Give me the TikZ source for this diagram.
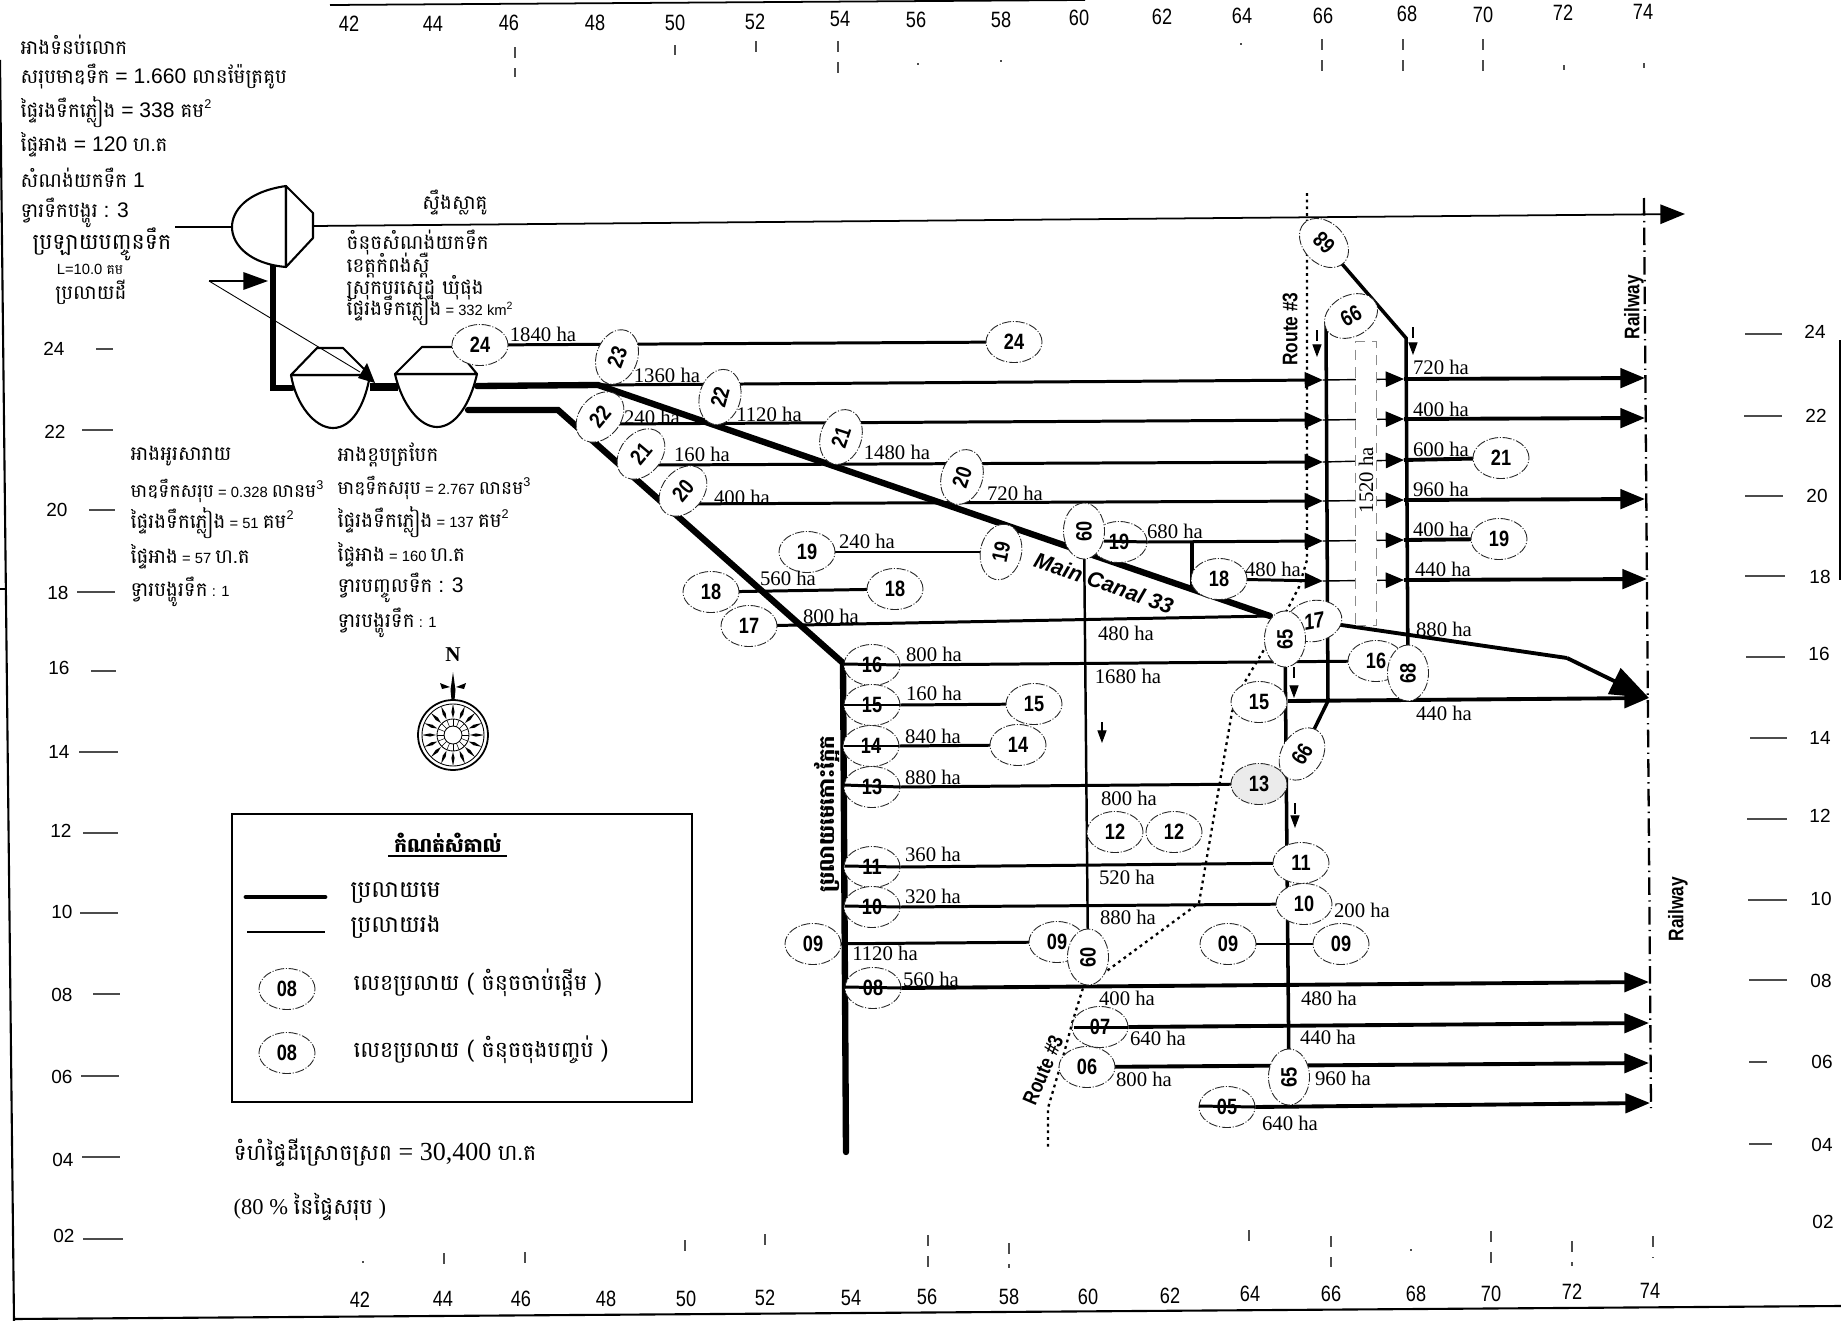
\documentclass[tikz,border=0pt]{standalone}
\usepackage{fontspec}
\usetikzlibrary{shapes.geometric,arrows.meta}
\setmainfont{Liberation Serif}
\newfontfamily\kmf[Script=Khmer]{Battambang}
\newfontfamily\sansf{Liberation Sans}
\newfontfamily\nsf[FakeStretch=0.82]{Liberation Sans}
\newcommand\fsz[1]{\fontsize{#1}{#1}\selectfont}
\newcommand\la[1]{{\sansf\fsz{6}\ #1\ }}
\newcommand\lb[1]{{\sansf\fsz{4.2}\ #1\ }}
\newcommand\sq[1]{\raisebox{.45em}{\sansf\fsz{3.6}#1}}
\pgfdeclarelayer{back}
\pgfsetlayers{back,main}
\tikzset{
  ell/.style={ellipse,draw=black!85,fill=white,inner sep=0pt,minimum width=0.56cm,minimum height=0.41cm,line width=.25pt,
    dash pattern=on 2.6pt off .5pt on .3pt off .5pt,font=\nsf\bfseries\fsz{6.3},text depth=0pt},
  ellh/.style={ell,fill=black!8},
  ha/.style={inner sep=0pt,font=\rmfamily\fsz{5.9}},
  km/.style={inner sep=0pt,anchor=west,font=\kmf\fsz{5.65}},
  kmc/.style={inner sep=0pt,font=\kmf\fsz{5.65}},
  kml/.style={km,font=\kmf\fsz{6.3}},
  ax/.style={inner sep=0pt,font=\sansf\fsz{5.4}},
  axn/.style={inner sep=0pt,font=\nsf\fsz{6.3}},
  rot/.style={inner sep=0pt,font=\nsf\bfseries\fsz{6}},
  canal/.style={line width=1.8pt,line cap=round,line join=miter},
  sec/.style={line width=.85pt},
  secb/.style={line width=1.1pt},
  fine/.style={line width=.35pt},
  tick/.style={line width=.3pt,black!70},
  routeline/.style={line width=.65pt,dash pattern=on .8pt off 1.1pt},
  rail/.style={line width=.65pt,dash pattern=on 5pt off 1.5pt on .4pt off 1.5pt},
  midtip/.style={-{Triangle[length=5.2pt,width=4.4pt]}},
  endtip/.style={-{Triangle[length=7pt,width=5.5pt]}},
  bigtip/.style={-{Triangle[length=11pt,width=8pt]}},
  smalltip/.style={line width=.3pt,dashed,-{Triangle[length=3.6pt,width=2.6pt]}},
  dam/.style={draw,fill=white,line width=.6pt,line join=round},
}
\begin{document}
\begin{tikzpicture}[x=0.01cm,y=-0.01cm]
\useasboundingbox (0,0) rectangle (1841,1321);
\begin{pgfonlayer}{back}
\fill[white] (0,0) rectangle (1841,1321);
\end{pgfonlayer}
% frame
\draw[line width=.6pt] (0,60) -- (14,1321);
\draw[line width=.6pt] (14,1319) -- (1841,1306);
\draw[line width=.5pt] (330,5) -- (1085,0);
\draw[line width=.5pt] (1840,340) -- (1840,580);
\draw[line width=.4pt] (0,589) -- (6,589);
% axis labels
\foreach \n/\x/\y in {42/349/24,44/433/24,46/509/23,48/595/23,50/675/23,52/755/22,54/840/19,56/916/20,58/1001/20,60/1079/18,62/1162/17,64/1242/16,66/1323/16,68/1407/14,70/1483/15,72/1563/13,74/1643/12}
  \node[axn] (top\n) at (\x,\y) {\n};
\foreach \n/\x/\y in {42/360/1300,44/443/1299,46/521/1299,48/606/1299,50/686/1299,52/765/1298,54/851/1298,56/927/1297,58/1009/1297,60/1088/1297,62/1170/1296,64/1250/1294,66/1331/1294,68/1416/1294,70/1491/1294,72/1572/1292,74/1650/1291}
  \node[axn] (bot\n) at (\x,\y) {\n};
\foreach \n/\x/\y in {24/54/349,22/55/432,20/57/510,18/58/593,16/59/668,14/59/752,12/61/831,10/62/912,08/62/995,06/62/1077,04/63/1160,02/64/1236}
  \node[ax] (lft\n) at (\x,\y) {\n};
\foreach \n/\x/\y in {24/1815/332,22/1816/416,20/1817/496,18/1820/577,16/1819/654,14/1820/738,12/1820/816,10/1821/899,08/1821/981,06/1822/1062,04/1822/1145,02/1823/1222}
  \node[ax] (rgt\n) at (\x,\y) {\n};
% ticks
\foreach \a/\b/\y in {96/113/349,82/113/430,89/115/510,77/115/592,91/116/671,79/118/752,83/118/833,80/118/913,93/120/994,81/119/1076,82/120/1157,83/123/1239}
  \draw[tick] (\a,\y) -- (\b,\y);
\foreach \a/\b/\y in {1745/1782/334,1744/1782/416,1745/1783/496,1745/1785/576,1746/1785/657,1750/1787/738,1747/1787/819,1748/1787/900,1749/1787/980,1749/1767/1062,1749/1772/1144}
  \draw[tick] (\a,\y) -- (\b,\y);
\foreach \x/\a/\b in {515/47/77,675/45/55,756/41/56,838/41/78,918/63/65,1001/60/62,1241/43/45,1322/39/71,1403/39/74,1483/39/74,1564/65/70,1644/63/68}
  \draw[tick,dashed] (\x,\a) -- (\x,\b);
\foreach \x/\a/\b in {363/1261/1263,444/1253/1268,525/1252/1270,685/1240/1251,765/1234/1252,928/1235/1267,1009/1243/1268,1249/1230/1245,1331/1236/1267,1411/1249/1251,1491/1231/1266,1572/1241/1266,1653/1236/1258}
  \draw[tick,dashed] (\x,\a) -- (\x,\b);
% top-left text
\node[km] (t1) at (20,45) {អាងទំនប់លោក};
\node[km] (t2) at (20,77) {សរុបមាឌទឹក\la{= 1.660}លានម៉ែត្រគូប};
\node[km] (t3) at (20,112) {ផ្ទៃរងទឹកភ្លៀង\la{= 338}គម\sq{2}};
\node[km] (t4) at (20,145) {ផ្ទៃអាង\la{= 120}ហ.ត};
\node[km] (t5) at (20,178) {សំណង់យកទឹក\la{1}};
\node[km] (t6) at (20,213) {ទ្វារទឹកបង្ហូរ\la{: 3}};
\node[kmc,font=\kmf\fsz{6.3}] (t7) at (102,244) {ប្រឡាយបញ្ចូនទឹក};
\node[kmc,font=\kmf\fsz{4}] (t8) at (88,269) {\lb{L=10.0}គម};
\node[kmc] (t9) at (91,292) {ប្រលាយដី};
\node[kmc] (river) at (455,203) {ស្ទឹងស្លាគូ};
\node[km] (p1) at (346,243) {ចំនុចសំណង់យកទឹក};
\node[km] (p2) at (346,266) {ខេត្តកំពង់ស្ពឺ};
\node[km] (p3) at (346,288) {ស្រុកបរសេដ្ឋ ឃុំផុង};
\node[km] (p4) at (346,310) {ផ្ទៃរងទឹកភ្លៀង\lb{= 332 km\raisebox{.4em}{\fsz{3}2}}};
% reservoir captions
\node[km] (a1) at (130,456) {អាងអូរសារាយ};
\node[km,font=\kmf\fsz{5.3}] (a2) at (130,491) {មាឌទឹកសរុប\lb{= 0.328}លានម\sq{3}};
\node[km] (a3) at (130,523) {ផ្ទៃរងទឹកភ្លៀង\lb{= 51}គម\sq{2}};
\node[km] (a4) at (130,557) {ផ្ទៃអាង\lb{= 57}ហ.ត};
\node[km] (a5) at (130,592) {ទ្វារបង្ហូរទឹក\lb{: 1}};
\node[km] (b1) at (337,455) {អាងខ្ពបត្របែក};
\node[km,font=\kmf\fsz{5.3}] (b2) at (337,488) {មាឌទឹកសរុប\lb{= 2.767}លានម\sq{3}};
\node[km] (b3) at (337,522) {ផ្ទៃរងទឹកភ្លៀង\lb{= 137}គម\sq{2}};
\node[km] (b4) at (337,555) {ផ្ទៃអាង\lb{= 160}ហ.ត};
\node[km] (b5) at (337,588) {ទ្វារបញ្ចូលទឹក\la{: 3}};
\node[km] (b6) at (337,623) {ទ្វារបង្ហូរទឹក\lb{: 1}};
% compass
\node[inner sep=0pt,font=\rmfamily\bfseries\fsz{6}] (north) at (453,655) {N};
\begin{scope}[shift={(453,735)}]
  \draw[line width=.5pt] (0,0) circle[radius=35];
  \draw[line width=.25pt] (0,0) circle[radius=31];
  \draw[line width=.25pt] (0,0) circle[radius=16];
  \draw[line width=.25pt] (0,0) circle[radius=9];
  \foreach \a in {0,22.5,...,337.5}{
    \fill (\a:17) -- (\a+4:23) -- (\a:31) -- (\a-4:23) -- cycle;
    \draw[line width=.15pt] (\a:9) -- (\a:16);
  }
  \fill (0,-63) -- (2.5,-45) -- (1.5,-35) -- (-1.5,-35) -- (-2.5,-45) -- cycle;
  \fill (-3,-48) -- (-13,-52) -- (-11,-46) -- cycle;
  \fill (3,-48) -- (13,-52) -- (11,-46) -- cycle;
\end{scope}
% river, dam and reservoirs
\draw[line width=.5pt] (175,227) -- (232,227);
\draw[line width=.5pt,endtip] (313,226) -- (1685,214);
\draw[dam] (286,186) .. controls (245,192) and (232,212) .. (232,227) .. controls (232,245) and (250,264) .. (286,267) -- cycle;
\draw[dam] (286,186) -- (313,213) -- (313,238) -- (286,267) -- cycle;
\draw[dam] (291,375) .. controls (296,405) and (315,428) .. (333,428) .. controls (352,428) and (365,405) .. (370,375) -- cycle;
\draw[dam] (291,375) -- (317,348) -- (343,348) -- (370,375) -- cycle;
\draw[dam] (395,374) .. controls (402,405) and (420,427) .. (437,427) .. controls (455,427) and (470,405) .. (477,374) -- cycle;
\draw[dam] (395,374) -- (422,347) -- (455,347) -- (477,374) -- cycle;
% ---- ellipses
\node[ell] (e24s) at (480,345) {24};
\node[ell] (e24e) at (1014,342) {24};
\node[ell,rotate=70] (e23) at (617,357) {23};
\node[ell,rotate=50] (e22l) at (600,417) {22};
\node[ell,rotate=75] (e22m) at (720,397) {22};
\node[ell,rotate=50] (e21l) at (641,454) {21};
\node[ell,rotate=72] (e21m) at (841,437) {21};
\node[ell,rotate=50] (e20l) at (683,491) {20};
\node[ell,rotate=72] (e20m) at (962,477) {20};
\node[ell] (e19l) at (807,552) {19};
\node[ell,rotate=78] (e19m) at (1001,552) {19};
\node[ell] (e19s) at (1119,542) {19};
\node[ell] (e18l) at (711,592) {18};
\node[ell] (e18r) at (895,589) {18};
\node[ell] (e18m) at (1219,579) {18};
\node[ell] (e17l) at (749,626) {17};
\node[ell,rotate=10] (e17e) at (1314,621) {\itshape 17};
\node[ell] (e16s) at (872,665) {16};
\node[ell] (e16e) at (1376,661) {16};
\node[ell] (e15s) at (872,705) {15};
\node[ell] (e15m) at (1034,704) {15};
\node[ell] (e15e) at (1259,702) {15};
\node[ell] (e14s) at (871,746) {14};
\node[ell] (e14e) at (1018,745) {14};
\node[ell] (e13s) at (872,787) {13};
\node[ellh] (e13e) at (1259,784) {13};
\node[ell] (e12a) at (1115,832) {12};
\node[ell] (e12b) at (1174,832) {12};
\node[ell] (e11s) at (872,867) {11};
\node[ell] (e11e) at (1301,863) {11};
\node[ell] (e10s) at (872,907) {10};
\node[ell] (e10e) at (1304,904) {10};
\node[ell] (e09a) at (813,944) {09};
\node[ell] (e09b) at (1057,942) {09};
\node[ell] (e09c) at (1228,944) {09};
\node[ell] (e09d) at (1341,944) {09};
\node[ell] (e08s) at (873,988) {08};
\node[ell] (e07s) at (1100,1027) {07};
\node[ell] (e06s) at (1087,1067) {06};
\node[ell] (e05s) at (1227,1107) {05};
\node[ell,rotate=135] (e68t) at (1324,243) {68};
\node[ell,rotate=28] (e66t) at (1351,316) {66};
\node[ell,rotate=90] (e68b) at (1408,673) {68};
\node[ell,rotate=90] (e60t) at (1084,531) {60};
\node[ell,rotate=90] (e60b) at (1088,957) {60};
\node[ell,rotate=90] (e65t) at (1285,639) {65};
\node[ell,rotate=90] (e65b) at (1289,1077) {65};
\node[ell,rotate=58] (e66b) at (1302,754) {66};
\node[ell] (e21e) at (1501,458) {21};
\node[ell] (e19e) at (1499,539) {19};
% named coordinates
\coordinate (cA) at (598,385);
\coordinate (cB) at (1270,616);
\coordinate (cC) at (558,410);
\coordinate (cD) at (843,663);
\coordinate (cE) at (846,1152);
\coordinate (cF) at (477,386);
\coordinate (cG) at (468,410);
\coordinate (cJ) at (273,265);
\coordinate (cK) at (273,388);
\coordinate (cL) at (292,388);
\coordinate (cM) at (370,387);
\coordinate (cN) at (398,387);
\coordinate (mT) at (1567,658);
\coordinate (mE) at (1649,698);
% ---- lines behind the ellipses
\begin{pgfonlayer}{back}
  \draw[canal] (cJ) -- (cK) -- (cL);
  \draw[canal,line width=2.4pt,line cap=butt] (cM) -- (cN);
  \draw[canal] (cF) -- (cA) -- (cB);
  \draw[canal] (cG) -- (cC) -- (cD) -- (cE);
  \draw[secb] (e17e.center) -- (mT);
  \draw[secb,bigtip] (mT) -- (mE);
  % rows to the railway
  \draw[sec,midtip] (cA) -- (1323,380);
  \draw[line width=.4pt,midtip] (1323,380) -- (1404,379);
  \draw[secb,endtip] (1404,379) -- (1645,378);
  \draw[sec,midtip] (612,424) -- (1323,420);
  \draw[line width=.4pt,midtip] (1323,420) -- (1404,419);
  \draw[secb,endtip] (1404,419) -- (1645,418);
  \draw[sec,midtip] (655,465) -- (1323,462);
  \draw[line width=.4pt,midtip] (1323,462) -- (1404,460);
  \draw[secb] (1404,460) -- (e21e.center);
  \draw[sec,midtip] (667,504) -- (1323,501);
  \draw[line width=.4pt,midtip] (1323,501) -- (1404,500);
  \draw[secb,endtip] (1404,500) -- (1645,499);
  \draw[sec,midtip] (e19s.east) -- (1323,541);
  \draw[line width=.4pt,midtip] (1323,541) -- (1404,540);
  \draw[secb] (1404,540) -- (e19e.center);
  \draw[sec,midtip] (e18m.center) -- (1323,581);
  \draw[line width=.4pt,midtip] (1323,581) -- (1404,580);
  \draw[secb,endtip] (1404,580) -- (1647,579);
  \draw[secb,line cap=round] (1192,543) -- (1192,588);
  % verticals
  \draw[line width=1pt] (1326,323) -- (1328,701) -- (e66b.center);
  \draw[line width=1pt] (e68t.center) -- (1406,338) -- (e68b.center);
  \draw[line width=1pt] (e65t.center) -- (e65b.center);
  \draw[line width=.7pt] (e60t.center) -- (e60b.center);
  % branches
  \draw[sec] (e24s.center) -- (e24e.center);
  \draw[sec] (e19l.center) -- (e19m.center);
  \draw[sec] (e18l.center) -- (e18r.center);
  \draw[sec] (e17l.center) -- (cB);
  \draw[sec] (e16s.east) -- (e16e.center);
  \draw[sec] (e15s.east) -- (e15m.center);
  \draw[sec] (e14s.east) -- (e14e.center);
  \draw[sec] (e13s.east) -- (e13e.center);
  \draw[sec] (e11s.east) -- (e11e.center);
  \draw[sec] (e10s.east) -- (e10e.center);
  \draw[sec] (e09a.center) -- (e09b.center);
  \draw[sec] (e09c.center) -- (e09d.center);
  \draw[secb,endtip] (e08s.east) -- (1649,982);
  \draw[secb,endtip] (e07s.east) -- (1649,1023);
  \draw[secb,endtip] (e06s.center) -- (1649,1063);
  \draw[secb,endtip] (e05s.east) -- (1650,1103);
  \draw[secb,endtip] (1288,701) -- (1649,698);
  % route and railway
  \draw[routeline] (1307,193) -- (1307,560) -- (1299,587) -- (1286,612) -- (1265,648) -- (1243,685) -- (1232,712) -- (1199,903) -- (1104,973) -- (1083,988) -- (1073,1020) -- (1063,1057) -- (1048,1108) -- (1048,1147);
  \draw[rail] (1644,198) -- (1651,1108);
\end{pgfonlayer}
% lines that run over their ellipses
\draw[sec] (844,664) -- (e16s.east);
\draw[sec] (844,705) -- (e15s.east);
\draw[sec] (844,746) -- (e14s.east);
\draw[sec] (844,785) -- (e13s.east);
\draw[sec] (845,866) -- (e11s.east);
\draw[sec] (845,906) -- (e10s.east);
\draw[sec] (845,987) -- (e08s.east);
\draw[sec] (1074,1027) -- (e07s.east);
\draw[sec] (1199,1106) -- (e05s.east);
\draw[sec] (1104,541) -- (e19s.east);
% small arrows into the network
\draw[fine,-{Triangle[length=7pt,width=5pt]}] (209,281) -- (268,281);
\draw[line width=.25pt] (209,281) -- (360,372);
\fill (375,383) -- (358,378) -- (367,363) -- cycle;
\draw[smalltip] (1317,330) -- (1317,357);
\draw[smalltip] (1413,327) -- (1413,355);
\draw[smalltip] (1294,667) -- (1294,698);
\draw[smalltip] (1295,803) -- (1295,828);
\draw[smalltip] (1102,722) -- (1102,743);
% 1520 box
\node[draw=black!45,densely dashed,line width=.35pt,fill=white,anchor=north,minimum width=.21cm,minimum height=2.84cm,inner sep=0pt] (box) at (1366,341) {};
\node[rotate=90,ha] (h1520) at (1366,480) {1520 ha};
% ha labels
\foreach \n/\x/\y/\t in {a/543/334/1840,b/667/375/1360,c/652/417/240,d/769/414/1120,e/702/454/160,f/897/452/1480,g/742/497/400,h/1015/493/720,i/867/541/240,j/788/578/560,k/831/616/800,l/1126/633/480,m/934/654/800,n/1128/676/1680,o/934/693/160,p/933/736/840,q/933/777/880,r/1129/798/800,s/933/854/360,u/1127/877/520,v/933/896/320,w/1128/917/880,x/885/953/1120,y/931/979/560,z/1127/998/400,A/1158/1038/640,B/1144/1079/800,C/1290/1123/640,D/1329/998/480,E/1328/1037/440,F/1343/1078/960,G/1362/910/200,H/1175/531/680,I/1273/569/480,J/1441/367/720,K/1441/409/400,L/1441/449/600,M/1441/489/960,N/1441/529/400,O/1443/569/440,P/1444/629/880,Q/1444/713/440}
  \node[ha] (ha\n) at (\x,\y) {\t{} ha};
\node[inner sep=0pt,rotate=-19,font=\sansf\bfseries\itshape\fsz{6.2}] (mc) at (1104,583) {Main Canal 33};
\node[rot,rotate=90] (rt1) at (1290,329) {Route \#3};
\node[rot,rotate=67] (rt2) at (1043,1070) {Route \#3};
\node[rot,rotate=90] (rw1) at (1634,307) {Railway};
\node[rot,rotate=90] (rw2) at (1678,909) {Railway};
\node[kmc,font=\kmf\bfseries\fsz{6},rotate=90] (mcl) at (827,814) {ប្រលាយមេកោះក្អែក};
% legend
\node[draw,line width=.5pt,inner sep=0pt,anchor=north west,minimum width=4.6cm,minimum height=2.88cm] (lg) at (231,813) {};
\node[kmc,font=\kmf\bfseries\fsz{5.65}] (lt) at (448,843) {កំណត់សំគាល់};
\draw[line width=.45pt] (388,856) -- (507,856);
\coordinate (l1a) at (246,897); \coordinate (l1b) at (325,897);
\coordinate (l2a) at (247,932); \coordinate (l2b) at (325,932);
\draw[canal,line width=1.4pt] (l1a) -- (l1b);
\draw[sec] (l2a) -- (l2b);
\node[kml,font=\kmf\fsz{6.6}] (l1) at (350,893) {ប្រលាយមេ};
\node[kml,font=\kmf\fsz{6.6}] (l2) at (350,927) {ប្រលាយរង};
\node[ell] (l3e) at (287,989) {08};
\node[ell] (l4e) at (287,1053) {08};
\node[kml] (l3) at (353,983) {លេខប្រលាយ ( ចំនុចចាប់ផ្តើម )};
\node[kml] (l4) at (353,1050) {លេខប្រលាយ ( ចំនុចចុងបញ្ចប់ )};
\node[kml] (s1) at (233,1153) {ទំហំផ្ទៃដីស្រោចស្រព{\rmfamily\fsz{7.4}\ =\ 30,400\ }ហ.ត};
\node[kml] (s2) at (233,1207) {{\rmfamily\fsz{6.4}(80 \%\ }នៃផ្ទៃសរុប{\rmfamily\fsz{6.4}\ )}};
\end{tikzpicture}
\end{document}
